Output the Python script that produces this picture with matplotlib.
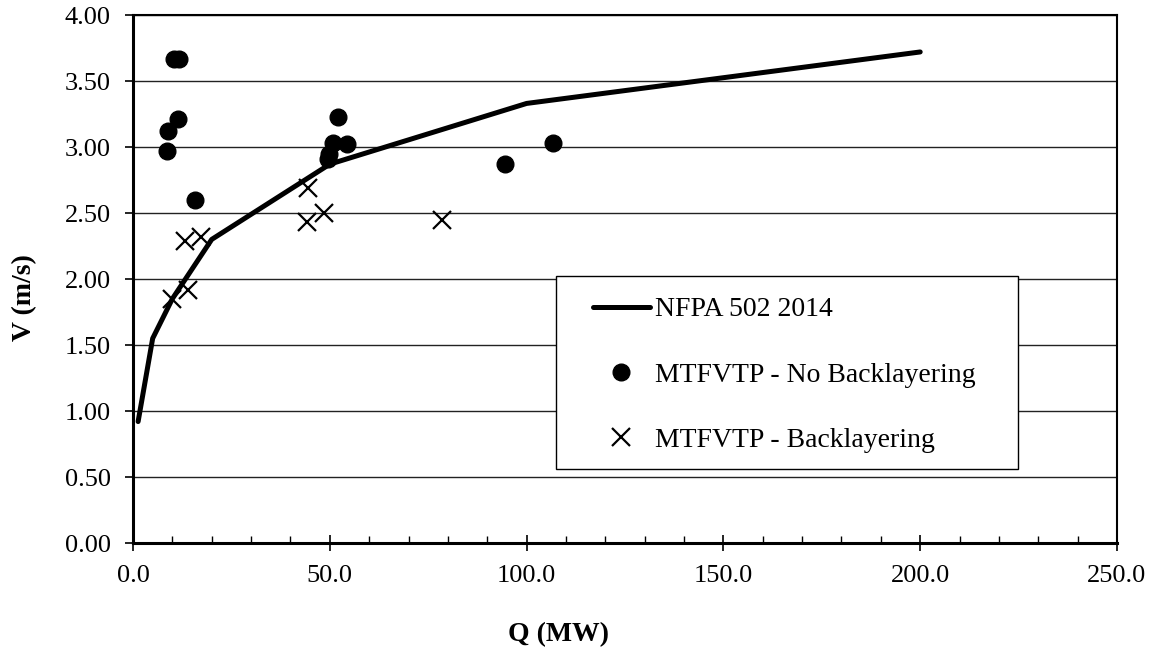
import matplotlib
matplotlib.use("Agg")
import matplotlib.pyplot as plt
from matplotlib.patches import Rectangle

# NFPA 502 2014 curve
nfpa_q = [1.3, 5, 10, 20, 50, 100, 200]
nfpa_v = [0.92, 1.55, 1.85, 2.30, 2.87, 3.33, 3.72]

# MTFVTP - No Backlayering
nb_q = [10.4, 11.8, 11.5, 9.0, 8.7, 15.7, 52.2, 50.8, 54.3, 49.9, 49.6, 94.5, 106.8]
nb_v = [3.67, 3.67, 3.21, 3.12, 2.97, 2.60, 3.23, 3.03, 3.02, 2.95, 2.91, 2.87, 3.03]

# MTFVTP - Backlayering
bl_q = [13.2, 17.4, 9.8, 14.1, 44.5, 44.1, 48.4, 78.4]
bl_v = [2.29, 2.32, 1.85, 1.92, 2.69, 2.43, 2.50, 2.45]

x_ticks = [0, 50, 100, 150, 200, 250]
y_ticks = [0, 0.5, 1.0, 1.5, 2.0, 2.5, 3.0, 3.5, 4.0]

plt.rcParams['font.family'] = ['Liberation Serif', 'DejaVu Serif']

W, H = 1154, 662
fig = plt.figure(figsize=(W / 100, H / 100), dpi=100)
ax = fig.add_axes([133 / W, 1 - 543 / H, 984 / W, 528 / H])

ax.set_xlim(0, 250)
ax.set_ylim(0, 4.0)
ax.set_yticks(y_ticks)
ax.set_xticks(x_ticks)
ax.set_xticks(list(range(10, 250, 10)), minor=True)
ax.set_yticklabels([f"{v:.2f}" for v in y_ticks], fontsize=19)
ax.set_xticklabels([f"{v:.1f}" for v in x_ticks], fontsize=19)
ax.tick_params(axis='y', which='major', direction='out', length=6, width=1.2, pad=10)
ax.tick_params(axis='x', which='major', direction='inout', length=12, width=1.2, pad=10)
ax.tick_params(axis='x', which='minor', direction='in', length=5, width=1.0)
ax.yaxis.grid(True, color='#222222', linewidth=1.0)
ax.set_axisbelow(True)
for s in ['left', 'bottom']:
    ax.spines[s].set_linewidth(2.2)
for s in ['top', 'right']:
    ax.spines[s].set_linewidth(1.5)

h1, = ax.plot(nfpa_q, nfpa_v, color='black', linewidth=3.6, solid_capstyle='round',
              solid_joinstyle='round', label='NFPA 502 2014', zorder=3)
h2, = ax.plot(nb_q, nb_v, linestyle='none', marker='o', markersize=12, color='black',
              label='MTFVTP - No Backlayering', zorder=4)
h3, = ax.plot(bl_q, bl_v, linestyle='none', marker='x', markersize=13, markeredgewidth=1.6,
              color='black', label='MTFVTP - Backlayering', zorder=4)

# legend frame
frame = Rectangle((556 / W, 1 - 469 / H), (1018 - 556) / W, (469 - 276) / H,
                  transform=fig.transFigure, facecolor='white', edgecolor='black',
                  linewidth=1.0, zorder=5)
fig.patches.append(frame)

leg = fig.legend(handles=[h1, h2, h3], loc='upper left',
                 bbox_to_anchor=(593 / W, 1 - 297 / H),
                 bbox_transform=fig.transFigure, fontsize=20, frameon=False,
                 labelspacing=1.43, handlelength=2.05, handletextpad=0.18,
                 borderpad=0, borderaxespad=0)
leg.set_zorder(6)

fig.text(25 / W, 1 - 298 / H, 'V (m/s)', fontsize=20, fontweight='bold',
         rotation=90, ha='center', va='center')
fig.text(559 / W, 1 - 635 / H, 'Q (MW)', fontsize=20, fontweight='bold',
         ha='center', va='center')

fig.savefig('out.png', dpi=100)
